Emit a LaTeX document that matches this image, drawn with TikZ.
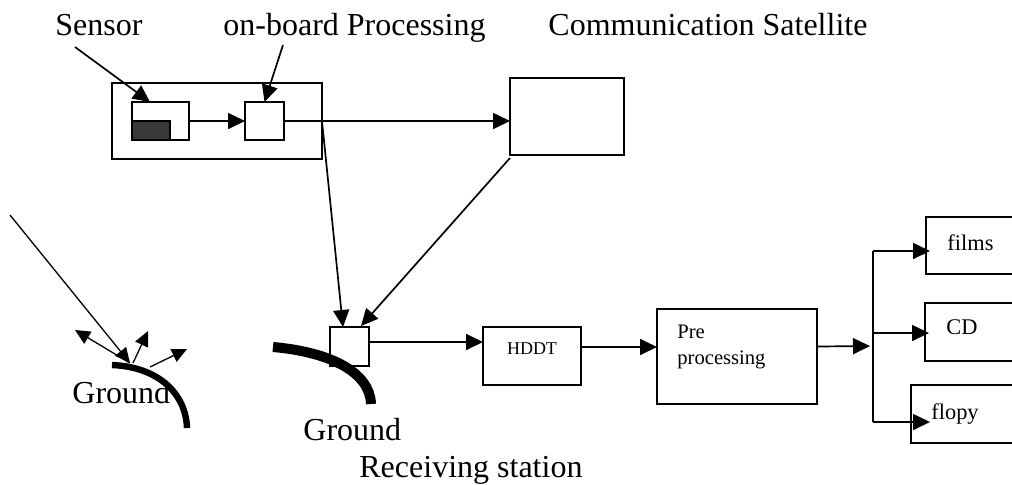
\documentclass[tikz,border=0pt]{standalone}
\usepackage{fontspec}
\setmainfont{Liberation Serif}
\usetikzlibrary{arrows.meta}
\definecolor{detector}{HTML}{383838}
\tikzset{
  wire/.style={line width=0.85pt},
  flow/.style={wire,-{Triangle[length=8.5pt,width=8pt]}},
  thinflow/.style={line width=0.65pt,-{Triangle[length=7.5pt,width=7pt]}},
  blockbox/.style={draw,line width=0.85pt,inner sep=0pt,outer sep=0pt},
  bigtext/.style={font=\fontsize{16}{19}\selectfont,inner sep=0pt},
  mediatext/.style={font=\fontsize{11.2}{13}\selectfont,inner sep=0pt},
  earth/.style={line cap=butt},
}
\begin{document}
\begin{tikzpicture}[x=0.5pt,y=-0.5pt]
\useasboundingbox (0,0) rectangle (1012,484);
\clip (0,0) rectangle (1012,484);

% ---- titles
\node[bigtext,anchor=base west] (tsensor) at (55,35) {Sensor};
\node[bigtext,anchor=base west] (tobp) at (223,35) {on-board Processing};
\node[bigtext,anchor=base west] (tcomm) at (548,35) {Communication Satellite};

% ---- remote sensing satellite
\node[blockbox,minimum width=105pt,minimum height=38pt] (sat) at (217,121) {};
\node[blockbox,minimum width=28.5pt,minimum height=19pt] (sensor) at (160.5,121) {};
\filldraw[fill=detector,line width=0.85pt] (sensor.south west) rectangle ++(38,-19);
\node[blockbox,minimum width=19.5pt,minimum height=19pt] (proc) at (264.5,121) {};

% ---- communication satellite
\node[blockbox,minimum width=57pt,minimum height=38.5pt] (comm) at (567,116.5) {};

% ---- ground segment
\node[blockbox,minimum width=19.5pt,minimum height=19.5pt] (gs) at (349.5,346.5) {};
\node[blockbox,minimum width=49pt,minimum height=29pt,
      label={[font=\fontsize{9}{11}\selectfont,inner sep=0pt,yshift=3.5pt]center:HDDT}] (hddt) at (532,356) {};
\node[blockbox,minimum width=80pt,minimum height=47.5pt] (pre) at (737,356.5) {};
\node[anchor=north west,align=left,inner sep=0pt,font=\fontsize{10.3}{13}\selectfont] (pretext) at (677,325) {Pre\\processing};

\node[blockbox,minimum width=65pt,minimum height=28.5pt] (films) at (991,245.5) {};
\node[mediatext,anchor=base west] (tfilms) at (947,250) {films};
\node[blockbox,minimum width=65pt,minimum height=29pt] (cd) at (990,332) {};
\node[mediatext,anchor=base west] (tcd) at (946,334) {CD};
\node[blockbox,minimum width=72pt,minimum height=29pt] (flopy) at (983,414) {};
\node[mediatext,anchor=base west] (tflopy) at (931,419) {flopy};

% ---- label pointers
\coordinate (sensorfrom) at (75,47);
\coordinate (obpfrom) at (283,45);
\draw[flow] (sensorfrom) -- ([xshift=-5.25pt]sensor.north);
\draw[flow] (obpfrom) -- (proc.north);

% ---- data paths
\draw[flow] (sensor.east) -- (proc.west);
\draw[flow] (proc.east) -- (proc.east -| comm.west);
\draw[flow] (sat.east) -- ([xshift=-3.25pt]gs.north);
\draw[flow] ([yshift=-1.5pt]comm.south west) -- ([xshift=-4pt,yshift=0.5pt]gs.north east);
\draw[flow] ([yshift=2.25pt]gs.east) -- ([yshift=2.25pt]gs.east -| hddt.west);
\draw[flow] ([yshift=4.5pt]hddt.east) -- ([yshift=4.5pt]hddt.east -| pre.west);

% ---- distribution bus
\coordinate (bustop) at (873,251);
\coordinate (busmid) at (873,346);
\coordinate (buscd) at (873,333);
\coordinate (busbot) at (873,422);
\coordinate (flopyin) at (930,422);
\draw[flow,shorten >=1.5pt] ([yshift=5pt]pre.east) -- (busmid);
\draw[wire] (bustop) -- (busbot);
\draw[flow,shorten >=-2pt] (bustop) -- (bustop -| films.west);
\draw[flow,shorten >=-2pt] (buscd) -- (buscd -| cd.west);
\draw[flow] (busbot) -- (flopyin);

% ---- reflection at the ground
\coordinate (sun) at (10,215);
\coordinate (hit) at (130,363);
\coordinate (hitb) at (133,363);
\coordinate (hitc) at (150,367);
\coordinate (outa) at (75,330);
\coordinate (outb) at (148,331);
\coordinate (outc) at (187,349);
\draw[thinflow] (sun) -- (hit);
\draw[thinflow] (hit) -- (outa);
\draw[thinflow] (hitb) -- (outb);
\draw[thinflow] (hitc) -- (outc);
\draw[earth,line width=3.2pt] (112,365) .. controls (160,367) and (186,395) .. (187,428);
\node[bigtext,anchor=base west] (tground) at (72,403) {Ground};

% ---- receiving station ground
\draw[earth,line width=5pt] (273,347) .. controls (330,352) and (370,372) .. (371,404);
\node[bigtext,anchor=base west] (tground2) at (303,440) {Ground};
\node[bigtext,anchor=base west] (trecv) at (359,477) {Receiving station};
\end{tikzpicture}
\end{document}
